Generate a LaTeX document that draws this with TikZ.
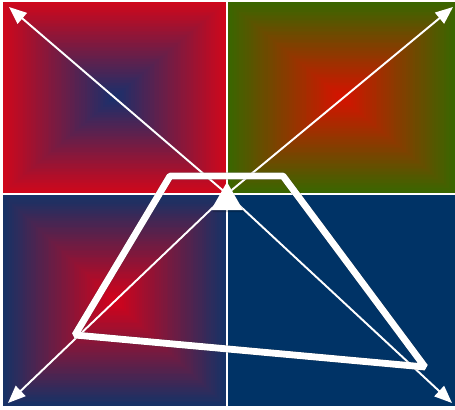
\documentclass[tikz,border=0pt]{standalone}
\usetikzlibrary{arrows.meta,calc}
\definecolor{tlout}{RGB}{206,8,28}
\definecolor{tlin}{RGB}{24,48,108}
\definecolor{trout}{RGB}{58,102,0}
\definecolor{trin}{RGB}{214,18,0}
\definecolor{blout}{RGB}{22,50,102}
\definecolor{blin}{RGB}{212,2,26}
\definecolor{brfill}{RGB}{0,51,102}
\newcommand\pyrfill[6]{%
  \foreach \i in {0,...,59}{%
    \pgfmathsetmacro\f{\i/60}%
    \pgfmathtruncatemacro\p{100*\i/59}%
    \pgfmathsetmacro\hx{\f*(#3-#1)/2}%
    \pgfmathsetmacro\hy{\f*(#4-#2)/2}%
    \fill[#6!\p!#5] (#1+\hx,#2+\hy) rectangle (#3-\hx,#4-\hy);
  }%
}
\tikzset{
  diagarrow/.style={draw=white, line width=1.1pt, -{Triangle[length=10pt,width=8pt]}},
  thickpoly/.style={draw=white, line width=3.9pt, line join=bevel},
  polyshadow/.style={draw=black, opacity=0.3, line width=4.2pt, line join=bevel},
}
\begin{document}
\begin{tikzpicture}[x=0.02cm,y=-0.02cm]
\fill[white] (0,0) rectangle (455,409);
\useasboundingbox (0,0) rectangle (455,409);
\pyrfill{3}{2}{226}{193}{tlout}{tlin}
\pyrfill{228}{2}{455}{193}{trout}{trin}
\pyrfill{3}{195}{226}{406}{blout}{blin}
\fill[brfill] (228,195) rectangle (455,406);
\coordinate (c) at (227,194);
\coordinate (tl) at (9,7);
\coordinate (tr) at (453,7);
\coordinate (bl) at (8,403);
\coordinate (br) at (452,403);
\draw[diagarrow] (c) -- (tl);
\draw[diagarrow] (c) -- (tr);
\draw[diagarrow] (c) -- (bl);
\draw[diagarrow] (c) -- (br);
\coordinate (p1) at (170,176);
\coordinate (p2) at (283,176);
\coordinate (p3) at (425,367);
\coordinate (p4) at (75,335);
\begin{scope}[shift={(2.5,3.5)}]
\draw[polyshadow] (p1) -- (p2) -- (p3) -- (p4) -- cycle;
\end{scope}
\draw[thickpoly] (p1) -- (p2) -- (p3) -- (p4) -- cycle;
\coordinate (ta) at (227,182);
\coordinate (tb) at (243,210);
\coordinate (tc) at (211,210);
\fill[black, opacity=0.2] ($(ta)+(1.5,2)$) -- ($(tb)+(1.5,2)$) -- ($(tc)+(1.5,2)$) -- cycle;
\fill[white] (ta) -- (tb) -- (tc) -- cycle;
\end{tikzpicture}
\end{document}
